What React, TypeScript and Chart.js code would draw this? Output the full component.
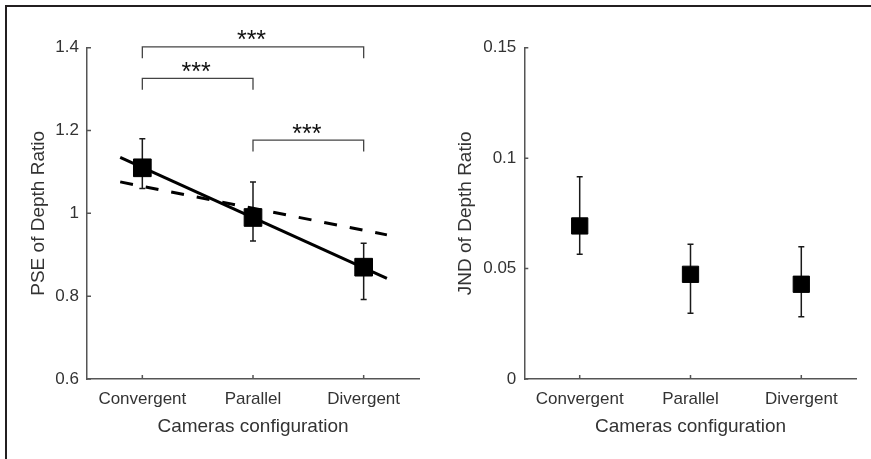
import React, { useEffect, useRef } from "react";
import { Chart, registerables } from "chart.js";
Chart.register(...registerables);

// ---------------- data ----------------
const categories = ["Convergent", "Parallel", "Divergent"];

const pseMean = [1.11, 0.99, 0.87];
const pseUpper = [1.18, 1.076, 0.928];
const pseLower = [1.06, 0.933, 0.792];
const fitX = [0.8, 3.21];
const pseFitSolid = [1.135, 0.843];
const pseFitDashed = [1.076, 0.948];
const pseTicks = [0.6, 0.8, 1, 1.2, 1.4];

const sigPairs = [
  [1, 3],
  [1, 2],
  [2, 3],
];
const sigLevels = [1.402, 1.326, 1.177];
const sigLabels = ["***", "***", "***"];

const jndMean = [0.0693, 0.0474, 0.0429];
const jndUpper = [0.0916, 0.061, 0.0599];
const jndLower = [0.0565, 0.0298, 0.0282];
const jndTicks = [0, 0.05, 0.1, 0.15];

// ---------------- style ----------------
const FONT = "'Liberation Sans', Arial, Helvetica, sans-serif";
const TEXT = "#333333";
const AXIS = "#555555";
const INK = "#111111";

Chart.defaults.font.family = FONT;

function errorBarPlugin(upper: number[], lower: number[]) {
  return {
    id: "errbars",
    beforeDatasetsDraw(chart: any) {
      const { ctx, scales } = chart;
      const x = scales.x;
      const y = scales.y;
      ctx.save();
      ctx.strokeStyle = "#1a1a1a";
      ctx.lineWidth = 1.5;
      upper.forEach((u, i) => {
        const px = x.getPixelForValue(i + 1);
        const pu = y.getPixelForValue(u);
        const pl = y.getPixelForValue(lower[i]);
        ctx.beginPath();
        ctx.moveTo(px, pu);
        ctx.lineTo(px, pl);
        ctx.moveTo(px - 3, pu);
        ctx.lineTo(px + 3, pu);
        ctx.moveTo(px - 3, pl);
        ctx.lineTo(px + 3, pl);
        ctx.stroke();
      });
      ctx.restore();
    },
  };
}

function tickMarkPlugin(xTicks: number[], yTicks: number[]) {
  return {
    id: "tickmarks",
    afterDraw(chart: any) {
      const { ctx, scales, chartArea } = chart;
      ctx.save();
      ctx.strokeStyle = AXIS;
      ctx.lineWidth = 1.5;
      ctx.beginPath();
      xTicks.forEach((v) => {
        const px = scales.x.getPixelForValue(v);
        ctx.moveTo(px, chartArea.bottom);
        ctx.lineTo(px, chartArea.bottom - 4);
      });
      yTicks.forEach((v) => {
        const py = scales.y.getPixelForValue(v);
        ctx.moveTo(chartArea.left, py);
        ctx.lineTo(chartArea.left + 4, py);
      });
      ctx.stroke();
      ctx.restore();
    },
  };
}

function sigPlugin() {
  return {
    id: "sig",
    afterDraw(chart: any) {
      const { ctx, scales } = chart;
      ctx.save();
      ctx.strokeStyle = "#444";
      ctx.lineWidth = 1.3;
      ctx.fillStyle = INK;
      ctx.font = `25px ${FONT}`;
      ctx.textAlign = "center";
      ctx.textBaseline = "alphabetic";
      sigPairs.forEach((p, i) => {
        const x1 = scales.x.getPixelForValue(p[0]);
        const x2 = scales.x.getPixelForValue(p[1]);
        const py = scales.y.getPixelForValue(sigLevels[i]);
        ctx.beginPath();
        ctx.moveTo(x1, py + 11.5);
        ctx.lineTo(x1, py);
        ctx.lineTo(x2, py);
        ctx.lineTo(x2, py + 11.5);
        ctx.stroke();
        ctx.fillText(sigLabels[i], (x1 + x2) / 2 - 1.5, py + 1.5);
      });
      ctx.restore();
    },
  };
}

function makeConfig(opts: {
  mean: number[];
  upper: number[];
  lower: number[];
  yTicks: number[];
  yTitle: string;
  padRight: number;
  yWidth: number;
  yTitlePad: number;
  radius: number;
  extraDatasets: any[];
  extraPlugins: any[];
}) {
  const tickFont = { family: FONT, size: 17 };
  const titleFont = { family: FONT, size: 19 };
  return {
    type: "scatter",
    data: {
      datasets: [
        {
          type: "scatter",
          data: opts.mean.map((v, i) => ({ x: i + 1, y: v })),
          pointStyle: "rect",
          pointRadius: opts.radius,
          pointHoverRadius: opts.radius,
          backgroundColor: "#000",
          borderColor: "#000",
          borderWidth: 1,
          order: 0,
        },
        ...opts.extraDatasets,
      ],
    },
    options: {
      animation: false,
      responsive: false,
      events: [],
      layout: { padding: { left: 0, right: opts.padRight, top: 47.7, bottom: 0 } },
      plugins: { legend: { display: false }, tooltip: { enabled: false } },
      scales: {
        x: {
          type: "linear",
          min: 0.5,
          max: 3.5,
          afterBuildTicks: (s: any) => {
            s.ticks = categories.map((_, i) => ({ value: i + 1 }));
          },
          afterFit: (s: any) => {
            s.height = 80;
          },
          ticks: {
            callback: (v: number) => categories[Math.round(v) - 1],
            font: tickFont,
            color: TEXT,
            padding: 10,
            autoSkip: false,
            maxRotation: 0,
          },
          grid: { display: false, drawTicks: false },
          border: { display: true, color: AXIS, width: 1.5 },
          title: {
            display: true,
            text: "Cameras configuration",
            font: titleFont,
            color: TEXT,
            padding: { top: 0, bottom: 20.6 },
          },
        },
        y: {
          type: "linear",
          min: opts.yTicks[0],
          max: opts.yTicks[opts.yTicks.length - 1],
          afterBuildTicks: (s: any) => {
            s.ticks = opts.yTicks.map((v) => ({ value: v }));
          },
          afterFit: (s: any) => {
            s.width = opts.yWidth;
          },
          ticks: {
            callback: (v: number) => String(+v.toFixed(2)),
            font: tickFont,
            color: TEXT,
            padding: 8,
          },
          grid: { display: false, drawTicks: false },
          border: { display: true, color: AXIS, width: 1.5 },
          title: {
            display: true,
            text: opts.yTitle,
            font: titleFont,
            color: TEXT,
            padding: { top: opts.yTitlePad, bottom: 0 },
          },
        },
      },
    },
    plugins: [
      errorBarPlugin(opts.upper, opts.lower),
      tickMarkPlugin([1, 2, 3], opts.yTicks),
      ...opts.extraPlugins,
    ],
  };
}

function Panel(props: { left: number; width: number; config: any }) {
  const ref = useRef<HTMLCanvasElement | null>(null);
  useEffect(() => {
    if (!ref.current) return;
    const chart = new Chart(ref.current, props.config);
    return () => chart.destroy();
  }, []);
  return (
    <canvas
      ref={ref}
      width={props.width}
      height={459}
      style={{
        position: "absolute",
        left: props.left,
        top: 0,
        width: props.width,
        height: 459,
      }}
    />
  );
}

export default function App() {
  const leftConfig = makeConfig({
    mean: pseMean,
    upper: pseUpper,
    lower: pseLower,
    yTicks: pseTicks,
    yTitle: "PSE of Depth Ratio",
    padRight: 21,
    yWidth: 87,
    yTitlePad: 26.9,
    radius: 12.5,
    extraDatasets: [
      {
        type: "line",
        data: fitX.map((x, i) => ({ x, y: pseFitSolid[i] })),
        borderColor: "#000",
        borderWidth: 3,
        pointRadius: 0,
        fill: false,
        order: 1,
      },
      {
        type: "line",
        data: fitX.map((x, i) => ({ x, y: pseFitDashed[i] })),
        borderColor: "#000",
        borderWidth: 3,
        borderDash: [13, 13],
        pointRadius: 0,
        fill: false,
        order: 2,
      },
    ],
    extraPlugins: [sigPlugin()],
  });
  const rightConfig = makeConfig({
    mean: jndMean,
    upper: jndUpper,
    lower: jndLower,
    yTicks: jndTicks,
    yTitle: "JND of Depth Ratio",
    padRight: 14.3,
    yWidth: 84.3,
    yTitlePad: 14.6,
    radius: 11.5,
    extraDatasets: [],
    extraPlugins: [],
  });
  return (
    <div
      style={{
        position: "absolute",
        left: 0,
        top: 0,
        width: 871,
        height: 459,
        background: "#fff",
        overflow: "hidden",
      }}
    >
      <Panel left={0} width={440} config={leftConfig} />
      <Panel left={440} width={431} config={rightConfig} />
      <div style={{ position: "absolute", left: 5, top: 5, width: 866, height: 2, background: "#231f20" }} />
      <div style={{ position: "absolute", left: 5, top: 5, width: 2, height: 454, background: "#231f20" }} />
    </div>
  );
}
